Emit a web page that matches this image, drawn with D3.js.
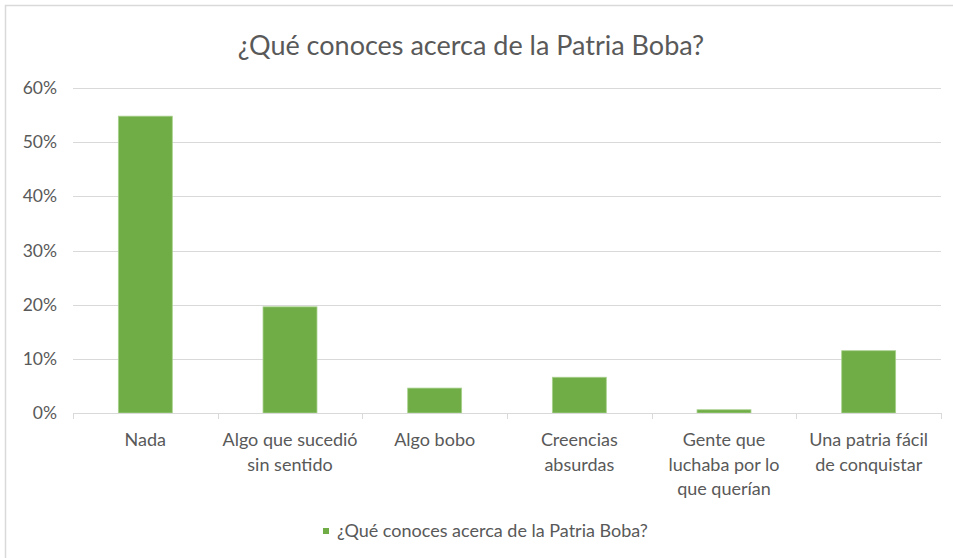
<!DOCTYPE html>
<html>
<head>
<meta charset="utf-8">
<script src="https://cdn.jsdelivr.net/npm/d3@7"></script>
<style>
    body { margin: 0; background: #fff; }
    svg text { font-family: Lato, "Open Sans", sans-serif; fill: #595959; }
</style>
</head>
<body>
<svg id="chart" width="953" height="558"></svg>
<script>
// chart data
var categories = [
    ["Nada"],
    ["Algo que sucedió", "sin sentido"],
    ["Algo bobo"],
    ["Creencias", "absurdas"],
    ["Gente que", "luchaba por lo", "que querían"],
    ["Una patria fácil", "de conquistar"]
];
var values = [0.548, 0.196, 0.046, 0.066, 0.006, 0.115];
var yTicks = [0, 0.1, 0.2, 0.3, 0.4, 0.5, 0.6];
var title = "¿Qué conoces acerca de la Patria Boba?";
var seriesName = "¿Qué conoces acerca de la Patria Boba?";

var svg = d3.select("#chart");

var margin = {top: 88, right: 12, bottom: 145, left: 73},
    width = 953 - margin.left - margin.right,
    height = 558 - margin.top - margin.bottom;

// outer chart border
svg.append("rect")
    .attr("x", 5.5).attr("y", 5.5)
    .attr("width", 960).attr("height", 570)
    .attr("fill", "none")
    .attr("stroke", "#d9d9d9")
    .attr("stroke-width", 1.5);

svg.append("text")
    .attr("x", 471)
    .attr("y", 55)
    .attr("text-anchor", "middle")
    .style("font-size", "27px")
    .text(title);

var g = svg.append("g")
    .attr("transform", "translate(" + margin.left + "," + margin.top + ")");

var xScale = d3.scaleBand()
    .domain(d3.range(categories.length))
    .range([0, width])
    .paddingInner(0.627)
    .paddingOuter(0.3135);

var yScale = d3.scaleLinear()
    .domain([0, 0.6])
    .range([height, 0]);

// gridlines
g.selectAll(".grid")
    .data(yTicks.slice(1))
    .enter().append("line")
    .attr("class", "grid")
    .attr("x1", 0).attr("x2", width)
    .attr("y1", function(d) { return Math.round(yScale(d)) + 0.5; })
    .attr("y2", function(d) { return Math.round(yScale(d)) + 0.5; })
    .attr("stroke", "#d9d9d9")
    .attr("stroke-width", 1);

// y axis labels
g.selectAll(".ylab")
    .data(yTicks)
    .enter().append("text")
    .attr("class", "ylab")
    .attr("x", -16)
    .attr("y", function(d) { return yScale(d); })
    .attr("dy", "0.35em")
    .attr("text-anchor", "end")
    .style("font-size", "17.5px")
    .text(d3.format(".0%"));

// bars
g.selectAll(".bar")
    .data(values)
    .enter().append("rect")
    .attr("class", "bar")
    .attr("x", function(d, i) { return xScale(i); })
    .attr("width", xScale.bandwidth())
    .attr("y", function(d) { return yScale(d); })
    .attr("height", function(d) { return height - yScale(d); })
    .attr("fill", "#70ad47")
    .attr("stroke", "#a9d18e")
    .attr("stroke-width", 0.8);

// x axis line and ticks at category boundaries
var step = xScale.step();
g.append("line")
    .attr("x1", 0).attr("x2", width)
    .attr("y1", height + 0.5).attr("y2", height + 0.5)
    .attr("stroke", "#d9d9d9");

g.selectAll(".xtick")
    .data(d3.range(categories.length + 1))
    .enter().append("line")
    .attr("class", "xtick")
    .attr("x1", function(d) { return Math.round(d * step) + 0.5; })
    .attr("x2", function(d) { return Math.round(d * step) + 0.5; })
    .attr("y1", height).attr("y2", height + 6)
    .attr("stroke", "#d9d9d9");

// category labels
var xlab = g.selectAll(".xlab")
    .data(categories)
    .enter().append("text")
    .attr("class", "xlab")
    .attr("text-anchor", "middle")
    .style("font-size", "18px")
    .attr("transform", function(d, i) {
        return "translate(" + (xScale(i) + xScale.bandwidth() / 2) + "," + (height + 33) + ")";
    });

xlab.selectAll("tspan")
    .data(function(d) { return d; })
    .enter().append("tspan")
    .attr("x", 0)
    .attr("dy", function(d, i) { return i === 0 ? 0 : 24.5; })
    .text(function(d) { return d; });

// legend
var legend = svg.append("g")
    .attr("transform", "translate(323,528)");
legend.append("rect")
    .attr("width", 6).attr("height", 6)
    .attr("fill", "#70ad47");
legend.append("text")
    .attr("x", 14)
    .attr("y", 3)
    .attr("dy", "0.35em")
    .style("font-size", "18px")
    .text(seriesName);
</script>
</body>
</html>
